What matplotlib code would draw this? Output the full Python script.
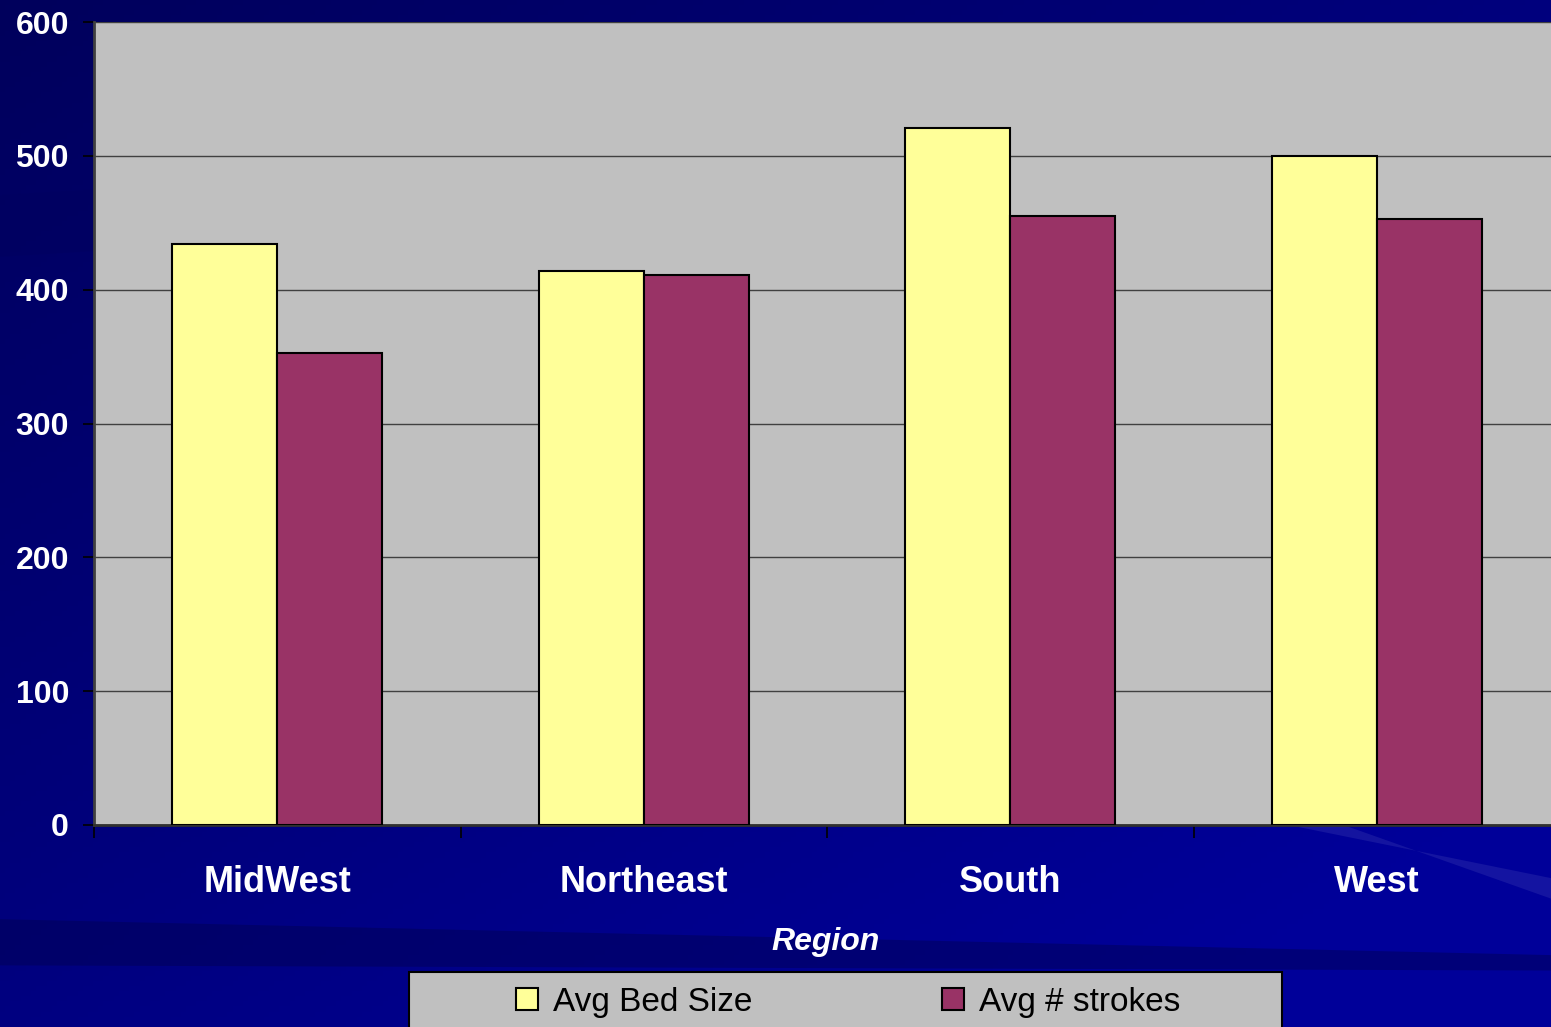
import matplotlib.pyplot as plt
from matplotlib.patches import Rectangle, Polygon
import numpy as np

# data
regions = ['MidWest', 'Northeast', 'South', 'West']
bed_size = [434, 414, 521, 500]
strokes = [353, 411, 455, 453]
series_names = ['Avg Bed Size', 'Avg # strokes']
y_ticks = [0, 100, 200, 300, 400, 500, 600]

yellow = '#FFFF99'
maroon = '#993366'

plt.rcParams['font.family'] = ['Liberation Sans', 'DejaVu Sans']

W, H = 1551, 1027
fig = plt.figure(figsize=(W / 100, H / 100), dpi=100)

# dark blue slide background with a soft diagonal gradient
bg = fig.add_axes([0, 0, 1, 1], zorder=-10)
yy, xx = np.mgrid[0:1:200j, 0:1:300j]
t = np.clip(0.55 * xx + 0.6 * yy, 0, 1)
c0 = np.array([0.0, 0.0, 0.36])
c1 = np.array([0.0, 0.0, 0.60])
img = c0[None, None, :] * (1 - t[..., None]) + c1[None, None, :] * t[..., None]
bg.imshow(img, extent=[0, 1, 0, 1], aspect='auto', origin='upper')
# faint streaks
bg.add_patch(Polygon([[0, 0.81], [0.75, 0.88], [1, 0.87], [1, 0.84], [0, 0.75]],
                     closed=True, facecolor='#000060', alpha=0.5, lw=0))
bg.add_patch(Polygon([[0.82, 0.20], [1, 0.145], [1, 0.125], [0.86, 0.20]],
                     closed=True, facecolor='#3a3ab0', alpha=0.35, lw=0))
bg.add_patch(Polygon([[0, 0.105], [1, 0.07], [1, 0.055], [0, 0.06]],
                     closed=True, facecolor='#000050', alpha=0.45, lw=0))
bg.set_xlim(0, 1)
bg.set_ylim(0, 1)
bg.axis('off')

left = 94 / W
right = 1560 / W
bottom = 1 - 825 / H
top = 1 - 22 / H
ax = fig.add_axes([left, bottom, right - left, top - bottom])
ax.set_facecolor('#C0C0C0')

x = np.arange(len(regions))
w = 0.286
ax.bar(x - w / 2, bed_size, w, color=yellow, edgecolor='black', linewidth=1.5,
       label=series_names[0], zorder=3)
ax.bar(x + w / 2, strokes, w, color=maroon, edgecolor='black', linewidth=1.5,
       label=series_names[1], zorder=3)

ax.set_xlim(-0.5, 3.5)
ax.set_ylim(0, 600)
ax.set_yticks(y_ticks)
ax.yaxis.grid(True, color='#404040', linewidth=1.0, zorder=0)

ax.set_xticks(np.arange(-0.5, 3.6, 1.0))
ax.set_xticklabels([])
ax.set_xticks(x, minor=True)
ax.set_xticklabels(regions, minor=True, fontsize=26, fontweight='bold', color='white')
ax.tick_params(axis='x', which='major', direction='out', length=9, width=1.2, color='black')
ax.tick_params(axis='x', which='minor', length=0, pad=29)
ax.tick_params(axis='y', direction='out', length=8, width=1.2, color='black',
               labelsize=23, labelcolor='white', pad=10)
for lbl in ax.get_yticklabels():
    lbl.set_fontweight('bold')

for s in ['top', 'right']:
    ax.spines[s].set_visible(False)
ax.spines['left'].set_color('#404040')
ax.spines['left'].set_linewidth(2)
ax.spines['bottom'].set_color('#303030')
ax.spines['bottom'].set_linewidth(2)

fig.text(826 / W, 1 - 942 / H, 'Region', ha='center', va='center', color='white',
         fontsize=23, fontweight='bold', fontstyle='italic')

# legend box
fig.patches.append(Rectangle((409 / W, -0.02), (1282 - 409) / W, 0.02 + (1027 - 972) / H,
                             transform=fig.transFigure, facecolor='#C0C0C0',
                             edgecolor='black', linewidth=1.5, zorder=5))
handles, labels = ax.get_legend_handles_labels()
leg = fig.legend(handles, labels, ncol=2, loc='center', frameon=False,
                 bbox_to_anchor=(848 / W, 1 - 1002 / H),
                 prop={'size': 24},
                 handlelength=0.65, handleheight=0.65, handletextpad=0.45, columnspacing=5.7)
leg.set_zorder(6)

fig.savefig('out.png', dpi=100)
